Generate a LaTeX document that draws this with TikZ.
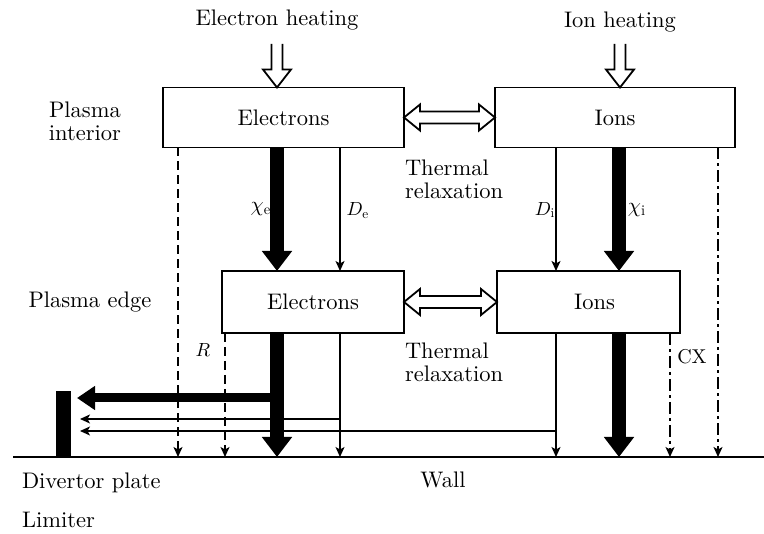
\documentclass[tikz,border=0pt]{standalone}
\usepackage{graphicx}
\usepackage{fontspec}
\setmainfont{lmroman10-regular}[Extension=.otf, ItalicFont=lmroman10-italic, BoldFont=lmroman10-bold]
\usetikzlibrary{arrows.meta,calc}
\begin{document}
\begin{tikzpicture}[x=1pt,y=-1pt,
  every node/.style={inner sep=0pt, outer sep=0pt, font=\fontsize{22.5}{23}\selectfont},
  lab/.style={font=\normalsize},
  box/.style={draw, line width=1.5pt, minimum width=#1, minimum height=62pt},
  hollow/.style={draw, line width=1.8pt, line join=miter, fill=white},
  thinarr/.style={line width=1.4pt, -{Stealth[length=10pt,width=9pt,inset=2.5pt]}},
  thickarr/.style={line width=14pt, -{Triangle[length=20pt,width=29pt]}},
  thickh/.style={line width=9pt, -{Triangle[length=18pt,width=23pt]}},
  dasharr/.style={thinarr, dash pattern=on 9pt off 5pt},
  dashdotarr/.style={thinarr, dash pattern=on 12pt off 4pt on 3pt off 4pt}]
\useasboundingbox (0,0) rectangle (764,534);

% boxes
\node[box=241pt, minimum height=60pt] (E1) at (283.5,117.5) {Electrons\hspace{20pt}};
\node[box=240pt, minimum height=60pt] (I1) at (615,117.5) {Ions};
\node[box=182pt] (E2) at (313,302) {Electrons\hspace{10pt}};
\node[box=183pt] (I2) at (588.5,302) {\hspace{12pt}Ions};

% texts
\node (eh) at (277,20) {Electron heating};
\node (ih) at (620,22) {Ion heating};
\node[align=center] (pint) at (85,121) {Plasma\\interior};
\node (pedge) at (90,302) {Plasma edge};
\node[align=left, anchor=west] (tr1) at (405,179) {Thermal\\relaxation};
\node[align=left, anchor=west] (tr2) at (405,362) {Thermal\\relaxation};
\node[anchor=west] (dpl) at (22,483) {Divertor plate};
\node[anchor=west] (lim) at (22,520) {Limiter};
\node (wall) at (443,480) {Wall};
\node[lab] (lchie) at (261,209) {\scalebox{2.1}{$\chi_{\mathrm{e}}$}};
\node[lab] (lde) at (358,211) {\scalebox{1.9}{$D_{\mathrm{e}}$}};
\node[lab] (ldi) at (545,210) {\scalebox{1.9}{$D_{\mathrm{i}}$}};
\node[lab] (lchii) at (637,210) {\scalebox{2.1}{$\chi_{\mathrm{i}}$}};
\node[lab] (lr) at (203,350) {\scalebox{1.9}{$R$}};
\node[font=\fontsize{20}{21}\selectfont] (lcx) at (692,357) {CX};

% divertor plate
\node[fill=black, minimum width=15pt, minimum height=66pt] (dp) at (63.5,424) {};

% coordinates
\coordinate (wl) at (13,457);
\coordinate (wr) at (764,457);
\coordinate (wA) at (178,457);
\coordinate (wR) at (225,457);
\coordinate (wChiE) at (277,457);
\coordinate (wDe) at (340,457);
\coordinate (wDi) at (556,457);
\coordinate (wChiI) at (619,457);
\coordinate (wCX) at (670,457);
\coordinate (wB) at (718,457);
\coordinate (hT) at (277,398);
\coordinate (hDe) at (340,419);
\coordinate (hDi) at (556,431);
\coordinate (ehs) at (277,44);
\coordinate (ihs) at (620,44);

% wall
\draw[line width=1.5pt] (wl) -- (wr);

% heating arrows
\draw[hollow, fill=none] ($(ehs)+(-5.5,0)$) -- ($(E1.north -| ehs)+(-5.5,-18)$) -- ++(-8.5,0) -- (E1.north -| ehs) -- ++(14,-18) -- ++(-8.5,0) -- ($(ehs)+(5.5,0)$);
\draw[hollow, fill=none] ($(ihs)+(-5.5,0)$) -- ($(I1.north -| ihs)+(-5.5,-18)$) -- ++(-8.5,0) -- (I1.north -| ihs) -- ++(14,-18) -- ++(-8.5,0) -- ($(ihs)+(5.5,0)$);

% thermal relaxation double arrows
\draw[hollow] (E1.east) -- ++(16,-13) -- ++(0,7) -- ($(I1.west)+(-16,-6)$) -- ++(0,-7) -- (I1.west) -- ++(-16,13) -- ++(0,-7) -- ($(E1.east)+(16,6)$) -- ++(0,7) -- cycle;
\draw[hollow] (E2.east) -- ++(16,-13) -- ++(0,7) -- ($(I2.west)+(-16,-6)$) -- ++(0,-7) -- (I2.west) -- ++(-16,13) -- ++(0,-7) -- ($(E2.east)+(16,6)$) -- ++(0,7) -- cycle;

% interior -> edge
\draw[thickarr] (E1.south -| wChiE) -- (E2.north -| wChiE);
\draw[thinarr] (E1.south -| wDe) -- (E2.north -| wDe);
\draw[thinarr] (I1.south -| wDi) -- (I2.north -| wDi);
\draw[thickarr] (I1.south -| wChiI) -- (I2.north -| wChiI);
\draw[dasharr] (E1.south -| wA) -- (wA);
\draw[dashdotarr] (I1.south -| wB) -- (wB);

% edge -> wall
\draw[dasharr] (E2.south -| wR) -- (wR);
\draw[thickarr] (E2.south -| wChiE) -- (wChiE);
\draw[thinarr] (E2.south -| wDe) -- (wDe);
\draw[thinarr] (I2.south -| wDi) -- (wDi);
\draw[thickarr] (I2.south -| wChiI) -- (wChiI);
\draw[dashdotarr] (I2.south -| wCX) -- (wCX);

% to divertor plate
\draw[thickh] (hT) -- ($(dp.east |- hT)+(6,0)$);
\draw[thinarr] (hDe) -- ($(dp.east |- hDe)+(9,0)$);
\draw[thinarr] (hDi) -- ($(dp.east |- hDi)+(9,0)$);
\end{tikzpicture}
\end{document}
